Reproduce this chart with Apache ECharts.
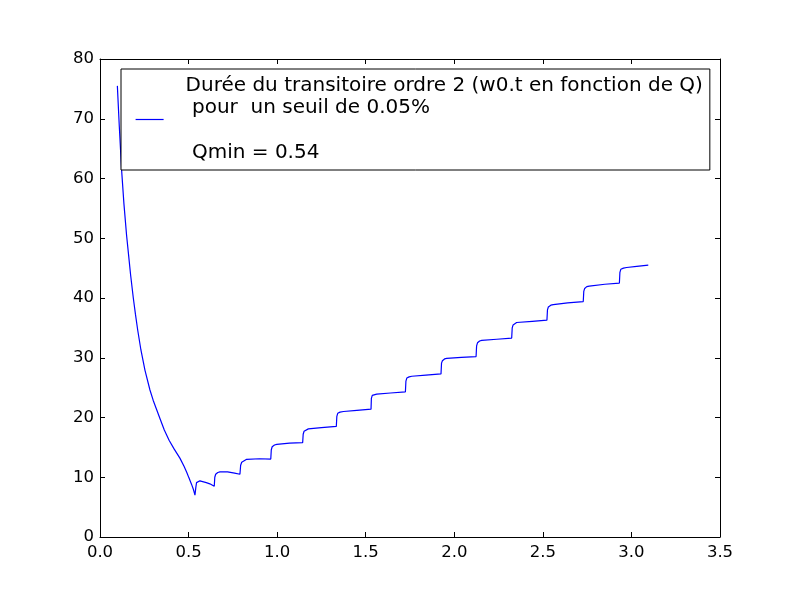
<!DOCTYPE html>
<html>
<head>
<meta charset="utf-8">
<script src="https://cdn.jsdelivr.net/npm/echarts@6/dist/echarts.min.js"></script>
<style>
    html, body { margin: 0; padding: 0; background: #fff; }
    #main { width: 800px; height: 597px; }
</style>
</head>
<body>
<div id="main"></div>
<script>
// Q values and transient duration w0.t
var qValues = [
    0.098, 0.109, 0.122, 0.135, 0.150, 0.162, 0.173, 0.188, 0.20, 0.213, 0.231, 0.254, 0.282, 0.30, 0.32,
    0.34, 0.363, 0.39, 0.419, 0.451, 0.475, 0.49, 0.502, 0.517, 0.528, 0.536,
    0.541, 0.545, 0.553, 0.564, 0.6, 0.62, 0.645,
    0.648, 0.653, 0.665, 0.677, 0.72, 0.76, 0.79,
    0.794, 0.80, 0.81, 0.828, 0.9, 0.964,
    0.967, 0.972, 0.985, 0.998, 1.07, 1.144,
    1.147, 1.152, 1.163, 1.176, 1.25, 1.334,
    1.337, 1.342, 1.355, 1.375, 1.45, 1.530,
    1.532, 1.537, 1.548, 1.562, 1.64, 1.724,
    1.727, 1.732, 1.745, 1.76, 1.84, 1.925,
    1.928, 1.933, 1.945, 1.957, 2.04, 2.123,
    2.126, 2.131, 2.143, 2.155, 2.24, 2.324,
    2.327, 2.332, 2.342, 2.352, 2.44, 2.523,
    2.526, 2.531, 2.545, 2.559, 2.64, 2.728,
    2.731, 2.736, 2.748, 2.762, 2.85, 2.932,
    2.935, 2.94, 2.955, 2.973, 3.03, 3.095
];
var durations = [
    75.5, 68.7, 61.4, 55.8, 50.5, 47.0, 43.8, 40.0, 37.3, 34.6, 31.3, 27.9, 24.6, 22.9, 21.3,
    19.7, 17.9, 16.2, 14.7, 13.2, 11.8, 10.8, 9.9, 8.8, 7.9, 7.0,
    8.3, 9.1, 9.4, 9.4, 9.1, 8.9, 8.5,
    10.0, 10.5, 10.8, 10.9, 10.9, 10.7, 10.5,
    12.0, 12.5, 12.8, 13.0, 13.1, 13.05,
    14.6, 15.1, 15.4, 15.5, 15.7, 15.8,
    17.2, 17.7, 18.0, 18.1, 18.3, 18.5,
    20.2, 20.7, 20.9, 21.0, 21.2, 21.4,
    23.2, 23.7, 23.85, 23.9, 24.1, 24.3,
    26.1, 26.6, 26.8, 26.9, 27.1, 27.3,
    29.1, 29.5, 29.8, 29.9, 30.05, 30.2,
    32.0, 32.5, 32.8, 32.9, 33.1, 33.3,
    35.0, 35.5, 35.8, 35.9, 36.1, 36.3,
    38.0, 38.5, 38.8, 38.9, 39.2, 39.4,
    41.1, 41.6, 41.9, 42.0, 42.3, 42.5,
    44.3, 44.8, 45.0, 45.1, 45.3, 45.5
];
var seriesLabel = 'Durée du transitoire ordre 2 (w0.t en fonction de Q)\n pour  un seuil de 0.05%\n\n Qmin = 0.54';

var chartDom = document.getElementById('main');
var myChart = echarts.init(chartDom);

var points = qValues.map(function (q, i) {
    return [q, durations[i]];
});

var font = 'DejaVu Sans';

function axisBase(type, pos, showLabel, min, max, interval) {
    return {
        type: 'value',
        position: pos,
        min: min,
        max: max,
        interval: interval,
        splitLine: { show: false },
        axisLine: { show: true, onZero: false, lineStyle: { color: '#000', width: 1 } },
        axisTick: { show: true, inside: true, length: 5, lineStyle: { color: '#000', width: 1 } },
        axisLabel: {
            show: showLabel,
            color: '#000',
            fontFamily: font,
            fontSize: 16.5,
            margin: type === 'x' ? 7 : 6,
            formatter: type === 'x' ? function (v) { return v.toFixed(1); } : function (v) { return v; }
        }
    };
}

var option = {
    animation: false,
    backgroundColor: '#fff',
    grid: { left: 100, right: 80, top: 59, bottom: 60 },
    xAxis: [
        axisBase('x', 'bottom', true, 0, 3.5, 0.5),
        axisBase('x', 'top', false, 0, 3.5, 0.5)
    ],
    yAxis: [
        axisBase('y', 'left', true, 0, 80, 10),
        axisBase('y', 'right', false, 0, 80, 10)
    ],
    legend: {
        left: 121,
        top: 69,
        orient: 'vertical',
        padding: [5.5, 7, 5.5, 14],
        backgroundColor: '#fff',
        borderColor: '#000',
        borderWidth: 1,
        borderRadius: 0,
        itemWidth: 28,
        itemHeight: 14,
        itemStyle: { opacity: 0 },
        lineStyle: { color: '#0000ff', width: 1.2 },
        textStyle: {
            color: '#000',
            fontFamily: font,
            fontSize: 20,
            lineHeight: 22.5,
            padding: [0, 0, 0, 17]
        },
        data: [seriesLabel]
    },
    series: [
        {
            name: seriesLabel,
            type: 'line',
            symbol: 'none',
            smooth: false,
            lineStyle: { color: '#0000ff', width: 1.2 },
            itemStyle: { color: '#0000ff' },
            data: points
        }
    ]
};

myChart.setOption(option);
</script>
</body>
</html>
